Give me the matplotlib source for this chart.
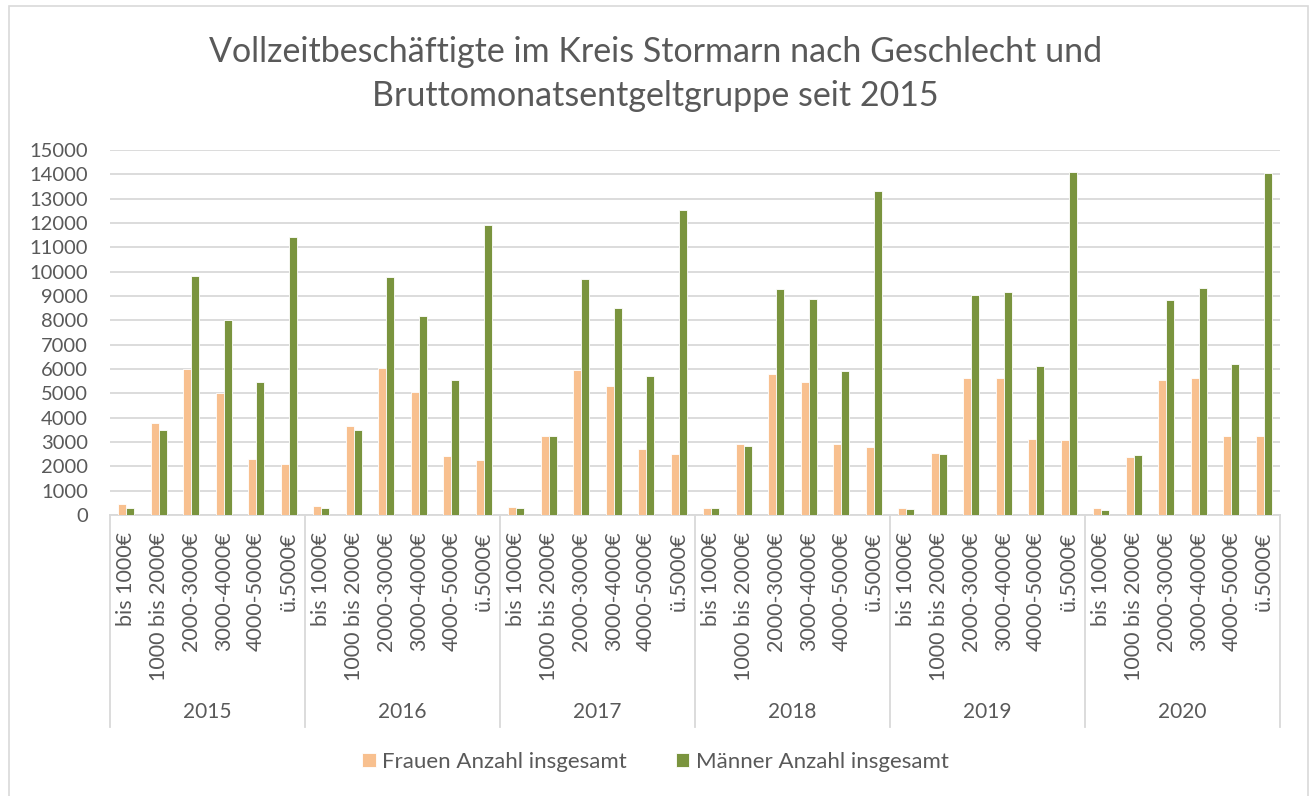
"""Vollzeitbeschaeftigte im Kreis Stormarn - grouped bar chart."""

import matplotlib
matplotlib.use("Agg")
import matplotlib.pyplot as plt
import matplotlib.transforms as mtransforms
from matplotlib.patches import Rectangle
import numpy as np

years = ["2015", "2016", "2017", "2018", "2019", "2020"]
groups = ["bis 1000€", "1000 bis 2000€", "2000-3000€", "3000-4000€", "4000-5000€", "ü.5000€"]

frauen = [
    440, 3770, 6000, 5000, 2300, 2110,   # 2015
    380, 3670, 6050, 5070, 2440, 2270,   # 2016
    330, 3260, 5970, 5290, 2710, 2510,   # 2017
    300, 2900, 5810, 5480, 2900, 2790,   # 2018
    300, 2530, 5620, 5640, 3110, 3100,   # 2019
    270, 2370, 5530, 5620, 3260, 3230,   # 2020
]
maenner = [
    270, 3510, 9810, 8030, 5480, 11420,
    270, 3510, 9780, 8190, 5560, 11900,
    300, 3230, 9700, 8490, 5730, 12550,
    270, 2850, 9290, 8880, 5920, 13320,
    250, 2520, 9040, 9150, 6140, 14080,
    220, 2470, 8820, 9340, 6190, 14050,
]

C_F = "#F8C08F"
C_M = "#7A943E"
TXT = "#595959"
GRID = "#D9D9D9"

plt.rcParams["font.family"] = ["Lato", "DejaVu Sans"]

fig = plt.figure(figsize=(13.11, 7.96), dpi=100)
W, H = 1311, 796
ax = fig.add_axes([110 / W, 1 - 515 / H, 1170 / W, 365 / H])

# outer chart border
fig.patches.append(Rectangle((9 / W, -0.02), (1308 - 9) / W, 1.02 - 6 / H,
                             transform=fig.transFigure, fill=False,
                             edgecolor=GRID, linewidth=1.2))

n = len(frauen)
x = np.arange(n)
w = 0.25
ax.bar(x - w / 2, frauen, w, color=C_F, edgecolor="white", linewidth=0.6,
       label="Frauen Anzahl insgesamt", zorder=3)
ax.bar(x + w / 2, maenner, w, color=C_M, edgecolor="white", linewidth=0.6,
       label="Männer Anzahl insgesamt", zorder=3)

ax.set_xlim(-0.5, n - 0.5)
ax.set_ylim(0, 15000)
ax.set_yticks(np.arange(0, 15001, 1000))
ax.yaxis.grid(True, color=GRID, linewidth=1.3, zorder=0)
ax.tick_params(axis="y", length=0, pad=16, labelsize=14.5, labelcolor=TXT)

for s in ["top", "right", "left"]:
    ax.spines[s].set_visible(False)
ax.spines["bottom"].set_color(GRID)
ax.spines["bottom"].set_linewidth(1.3)

ax.set_xticks(x)
ax.set_xticklabels(groups * len(years), rotation=90, fontsize=15.5, color=TXT)
ax.tick_params(axis="x", length=0, pad=12)

# second level of the category axis: years and separators
trans = mtransforms.blended_transform_factory(ax.transData, ax.transAxes)
ng = len(groups)
for k in range(len(years) + 1):
    xb = k * ng - 0.5
    ax.plot([xb, xb], [0, -0.581], transform=trans, color=GRID,
            linewidth=1.3, clip_on=False)
for k, yr in enumerate(years):
    ax.text(k * ng + (ng - 1) / 2, -0.54, yr, transform=trans, ha="center",
            va="center", fontsize=15, color=TXT)

fig.text(0.5, 1 - 74 / H, "Vollzeitbeschäftigte im Kreis Stormarn nach Geschlecht und\n"
         "Bruttomonatsentgeltgruppe seit 2015", ha="center", va="center",
         fontsize=24.5, color=TXT, linespacing=1.5)

fig.legend(loc="center", bbox_to_anchor=(0.5, 1 - 762 / H), ncol=2,
           frameon=False, fontsize=16, labelcolor=TXT, handlelength=0.6,
           handleheight=0.6, handletextpad=0.3, columnspacing=2.2)

fig.savefig("out.png", dpi=100, facecolor="white")
